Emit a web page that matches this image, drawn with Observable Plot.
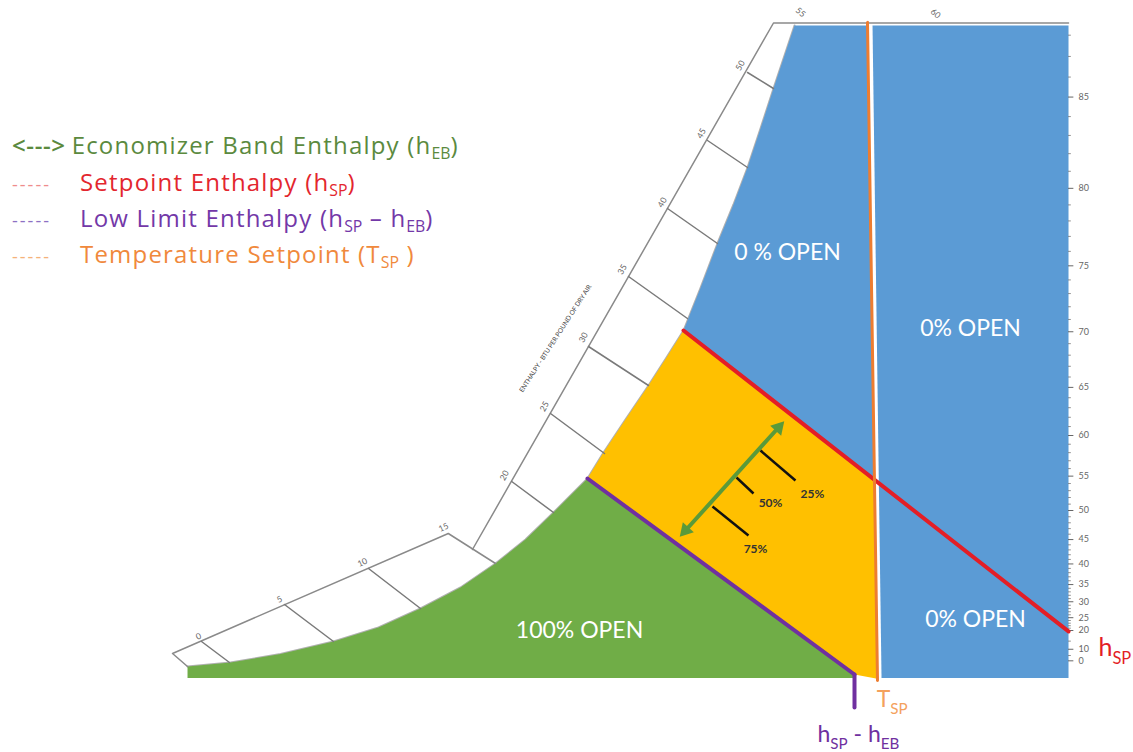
<!DOCTYPE html>
<html><head><meta charset="utf-8">
<script src="https://cdn.jsdelivr.net/npm/d3@7"></script>
<script src="https://cdn.jsdelivr.net/npm/@observablehq/plot@0.6"></script>
<style>
body{margin:0;background:#fff;font-family:Lato,"Open Sans",sans-serif;}
#wrap{position:relative;width:1133px;height:752px;overflow:hidden;}
#chart{position:absolute;left:0;top:0;}
.row{position:absolute;left:12px;white-space:nowrap;font-family:"Open Sans",sans-serif;font-size:24px;line-height:26px;letter-spacing:1.2px;}
.dash{display:inline-block;width:68px;letter-spacing:2px;font-size:18px;}
.arr{font-weight:600;letter-spacing:0.6px;margin-right:6px;}
sub{font-size:0.66em;vertical-align:-0.3em;line-height:0;letter-spacing:0;}
</style></head>
<body>
<div id="wrap">
<div id="chart"></div>
<div class="row" style="top:132px;color:#5b8a3e"><span class="arr">&lt;---&gt;</span>Economizer Band Enthalpy (h<sub>EB</sub>)</div>
<div class="row" style="top:169px"><span class="dash" style="color:#ef8c8c">-----</span><span style="color:#e3262e">Setpoint Enthalpy (h<sub>SP</sub>)</span></div>
<div class="row" style="top:205px"><span class="dash" style="color:#8d70c4">-----</span><span style="color:#7338a8">Low Limit Enthalpy (h<sub>SP</sub> – h<sub>EB</sub>)</span></div>
<div class="row" style="top:241px"><span class="dash" style="color:#f5b27a">-----</span><span style="color:#f0893c">Temperature Setpoint (T<sub>SP</sub> )</span></div>
</div>
<script>
// ---- DATA (x: dry-bulb temperature °F, y: humidity ratio, grains per lb dry air) ----
const saturationCurve = [
  [-8.79,3.68],[-1.97,4.96],[5.97,7.68],[14.38,11.68],[21.52,16.16],[28.19,22.24],
  [34.54,28.96],[40.10,36.64],[44.86,44.32],[49.30,52.96],[54.70,63.84],[57.24,72.16],
  [60.73,82.72],[64.38,93.60],[67.24,102.56],[69.94,111.20],[72.60,124.64],[75.33,139.04],
  [77.87,151.52],[80.10,163.36],[82.16,175.84],[84.22,188.64],[85.97,199.2],[87.56,208.8]
];
const lowLimitLine = [[54.70,63.84],[97.08,1.12]];
const lowLimitMarker = [[97.08,1.12],[97.08,-9.4]];
const setpointEnthalpyLine = [[69.94,111.2],[131.05,14.9]];
const tempSetpointLine = [[99.14,209.8],[100.73,-0.8]];
const setpointCrossing = [100.26,63.4];
const blueRightRegion = [[99.94,208.8],[131.05,208.8],[131.05,0],[101.37,0]];

const bandOutlineLower = [[-8.79,3.68],[-11.17,7.84],[32.6,46.24],[40.10,36.64]];
const bandOutlineUpper = [[36.44,41.12],[84.22,209.6],[131.05,209.6]];
const enthalpyTicks = [
  [-6.57,11.68,-2.13,4.96],[6.60,23.52,14.38,11.68],[19.94,35.04,28.19,22.24],
  [42.67,62.88,49.30,52.96],[48.83,84.64,57.40,71.84],[54.86,106.08,64.38,93.60],
  [61.21,128.48,70.56,115.04],[67.40,150.24,75.33,139.04],[73.75,172.0,80.10,163.36],
  [80.10,193.76,84.22,188.64]
];
const enthalpyValues = [0,5,10,15,20,25,30,35,40,45,50,55,60];
const enthalpyLabelT = [-7.02,5.81,18.98,31.84,41.52,47.87,54.06,60.25,66.59,72.79,78.98,88.51,109.94];
const enthalpyLabelW = [13.28,25.12,36.96,48.16,64.8,86.88,108.96,130.72,152.16,174.24,196.0,213.0,212.6];
const enthalpyTitle = "ENTHALPY - BTU PER POUND OF DRY AIR";

const dewPointLabels = [0,10,20,25,30,35,40,45,50,55,60,65,70,75,80,85];
const dewPointW = [5.5,9.2,15.2,19.3,24.4,29.9,36.5,44.3,53.6,64.6,77.6,93.0,110.8,131.9,156.7,185.9];
const dewPointExtraW = [7.2,11.8,192.3,198.9,205.7];
const chartRightT = 131.05;

const regionLabels = ["0 % OPEN","0% OPEN","0% OPEN","100% OPEN"];
const regionT = [86.44,115.49,116.29,53.43];
const regionW = [136.16,111.84,18.72,15.2];

const bandArrow = [[70.25,47.2],[85.02,80.16]];
const damperLabels = ["25%","50%","75%"];
const damperTicks = [[82.16,72.8,87.71,63.2],[78.35,64.16,81.05,59.04],[74.54,54.88,80.25,45.6]];
const damperLabelT = [90.41,83.75,81.37];
const damperLabelW = [58.72,55.84,41.2];

const markerLabels = ["h_{SP}","T_{SP}","h_{SP} - h_{EB}"];
const markerT = [135.8,100.6,97.71];
const markerW = [9.5,-6.9,-18.1];

// ---- BUILD ----
const pt = d => ({T: d[0], W: d[1]});
const greenRegion = [...saturationCurve.slice(0,11), lowLimitLine[1], [97.08,0], [-8.79,0]].map(pt);
const orangeRegion = [...saturationCurve.slice(10,16), setpointCrossing, [100.7,-0.2], lowLimitLine[1]].map(pt);
const blueLeftRegion = [...saturationCurve.slice(15), [99.15,208.8], setpointCrossing].map(pt);

// minor ticks on dew-point axis: whole degrees between major labels
const minorW = [...dewPointExtraW];
for (let i = 2; i < dewPointLabels.length - 1; i++) {
  const a = dewPointLabels[i], b = dewPointLabels[i+1];
  for (let k = 1; k < b - a; k++) minorW.push(dewPointW[i] * Math.pow(dewPointW[i+1]/dewPointW[i], k/(b-a)));
}

const ticksData = enthalpyTicks.map(d => [{T:d[0],W:d[1]},{T:d[2],W:d[3]}]);
const enthLabels = enthalpyValues.map((v,i) => ({v, T: enthalpyLabelT[i], W: enthalpyLabelW[i], top: v >= 55, low: v <= 15}));
const regions = regionLabels.map((s,i) => ({s, T: regionT[i], W: regionW[i]}));
const dampers = damperLabels.map((s,i) => ({s, T1: damperTicks[i][0], W1: damperTicks[i][1], T2: damperTicks[i][2], W2: damperTicks[i][3], LT: damperLabelT[i], LW: damperLabelW[i]}));
const markers = markerLabels.map((s,i) => ({s, T: markerT[i], W: markerW[i]}));
const dew = dewPointLabels.map((v,i) => ({v, W: dewPointW[i]}));

const BLUE = "#5b9bd5", GREEN = "#70ad47", YELLOW = "#ffc000", PURPLE = "#7030a0", RED = "#e31e26", ORANGE = "#ed7d31";
const line = (arr, o) => Plot.line(arr.map(pt), {x: "T", y: "W", ...o});

const plot = Plot.plot({
  width: 1133, height: 752, margin: 0,
  style: {fontFamily: "Lato, 'Open Sans', sans-serif", background: "transparent"},
  x: {domain: [0,130], range: [242.4, 1061.4], axis: null},
  y: {domain: [0,210], range: [677.5, 21.25], axis: null},
  marks: [
    line(saturationCurve, {stroke: "#b0b0b0", strokeWidth: 2}),
    Plot.line(greenRegion, {x: "T", y: "W", fill: GREEN, stroke: "none"}),
    Plot.line(orangeRegion, {x: "T", y: "W", fill: YELLOW, stroke: "none"}),
    Plot.line(blueLeftRegion, {x: "T", y: "W", fill: BLUE, stroke: "none"}),
    line(blueRightRegion, {fill: BLUE, stroke: "none"}),
    // enthalpy band
    line(bandOutlineLower, {stroke: "#8a8a8a", strokeWidth: 1.5}),
    line(bandOutlineUpper, {stroke: "#8a8a8a", strokeWidth: 1.5}),
    ...ticksData.map(t => Plot.line(t, {x: "T", y: "W", stroke: "#7a7a7a", strokeWidth: 1.5})),
    Plot.text(enthLabels.filter(d => d.low), {x: "T", y: "W", text: "v", rotate: -25, fontSize: 8.5, fill: "#666"}),
    Plot.text(enthLabels.filter(d => !d.low && !d.top), {x: "T", y: "W", text: "v", rotate: -60, fontSize: 8.5, fill: "#666"}),
    Plot.text(enthLabels.filter(d => d.top), {x: "T", y: "W", text: "v", rotate: 40, fontSize: 8.5, fill: "#666"}),
    Plot.text([enthalpyTitle], {x: () => 49.6, y: () => 108.6, text: d => d, rotate: -57, fontSize: 6.5, fill: "#444"}),
    // dew point axis
    Plot.ruleY(minorW, {y: d => d, x1: chartRightT, x2: chartRightT + 0.45, stroke: "#777", strokeWidth: 0.8}),
    Plot.ruleY(dew, {y: "W", x1: chartRightT, x2: chartRightT + 0.85, stroke: "#666", strokeWidth: 1}),
    Plot.text(dew, {x: () => chartRightT, y: "W", text: "v", dx: 10, textAnchor: "start", fontSize: 9, fill: "#666"}),
    // setpoint lines
    line(lowLimitLine, {stroke: PURPLE, strokeWidth: 4}),
    line(lowLimitMarker, {stroke: PURPLE, strokeWidth: 4}),
    line(setpointEnthalpyLine, {stroke: RED, strokeWidth: 4}),
    line(tempSetpointLine, {stroke: ORANGE, strokeWidth: 3}),
    // economizer band arrow
    line(bandArrow, {stroke: "#5a9a3a", strokeWidth: 4}),
    Plot.dot([bandArrow[1]].map(pt), {x: "T", y: "W", symbol: "triangle", r: 5.5, rotate: 42, fill: "#5a9a3a"}),
    Plot.dot([bandArrow[0]].map(pt), {x: "T", y: "W", symbol: "triangle", r: 5.5, rotate: 222, fill: "#5a9a3a"}),
    Plot.link(dampers, {x1: "T1", y1: "W1", x2: "T2", y2: "W2", stroke: "#111", strokeWidth: 2.5}),
    Plot.text(dampers, {x: "LT", y: "LW", text: "s", fontSize: 12, fontWeight: "bold", fill: "#333"}),
    // region labels
    Plot.text(regions, {x: "T", y: "W", text: "s", fontSize: 23, fill: "#fff"}),
    // marker labels
    Plot.text(markers.slice(0,1), {x: "T", y: "W", text: "s", fontSize: 25, textAnchor: "start", fill: RED}),
    Plot.text(markers.slice(1,2), {x: "T", y: "W", text: "s", fontSize: 23, textAnchor: "start", fill: "#f4a15d"}),
    Plot.text(markers.slice(2,3), {x: "T", y: "W", text: "s", fontSize: 23, fill: PURPLE})
  ]
});
document.getElementById("chart").appendChild(plot);

// subscripts: "_{...}" -> tspan
plot.querySelectorAll("text").forEach(t => {
  const s = t.textContent;
  if (!s.includes("_{")) return;
  const fs = parseFloat(getComputedStyle(t).fontSize) || 20;
  const parts = s.split(/(_\{[^}]*\})/).filter(p => p);
  t.textContent = "";
  let shifted = false;
  parts.forEach(p => {
    const ts = document.createElementNS("http://www.w3.org/2000/svg", "tspan");
    if (p.startsWith("_{")) {
      ts.textContent = p.slice(2, -1);
      ts.setAttribute("font-size", fs * 0.66);
      ts.setAttribute("dy", fs * 0.3);
      shifted = true;
    } else {
      ts.textContent = p;
      if (shifted) { ts.setAttribute("dy", -fs * 0.3); shifted = false; }
    }
    t.appendChild(ts);
  });
});
</script>
</body></html>
